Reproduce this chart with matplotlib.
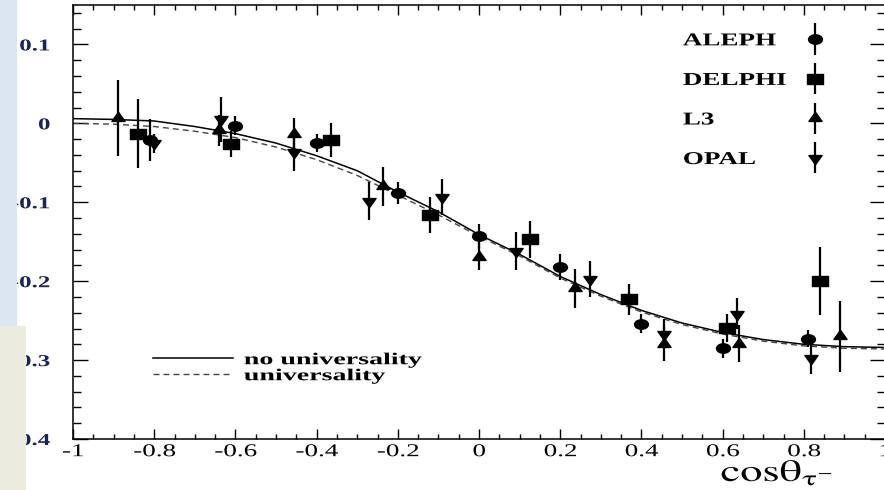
"""
tau 极化随 cos(theta) 的分布：四个实验的数据点 + 两条拟合曲线。
"""

import matplotlib
matplotlib.use("Agg")
import matplotlib.pyplot as plt
from matplotlib import patheffects
from matplotlib.path import Path
from matplotlib.patches import Rectangle
from matplotlib.transforms import Affine2D
from matplotlib.ticker import MultipleLocator
from matplotlib.container import ErrorbarContainer
from matplotlib.legend_handler import HandlerErrorbar
from matplotlib.offsetbox import HPacker, TextArea

# ============================================================
# 数据
# ============================================================
aleph_x = [-0.81, -0.60, -0.40, -0.20, 0.00, 0.20, 0.40, 0.60, 0.81]
aleph_y = [-0.021, -0.003, -0.025, -0.088, -0.143, -0.182, -0.254, -0.285, -0.273]
aleph_err = [0.027, 0.012, 0.011, 0.014, 0.015, 0.016, 0.012, 0.012, 0.011]

delphi_x = [-0.84, -0.61, -0.365, -0.12, 0.125, 0.37, 0.61, 0.84]
delphi_y = [-0.013, -0.026, -0.021, -0.116, -0.147, -0.223, -0.259, -0.200]
delphi_err = [0.044, 0.016, 0.021, 0.023, 0.023, 0.020, 0.018, 0.043]

l3_x = [-0.89, -0.64, -0.455, -0.236, 0.0, 0.236, 0.455, 0.64, 0.89]
l3_y = [0.007, -0.009, -0.013, -0.080, -0.169, -0.209, -0.279, -0.279, -0.270]
l3_err = [0.048, 0.020, 0.020, 0.025, 0.017, 0.025, 0.022, 0.023, 0.045]

opal_x = [-0.80, -0.635, -0.455, -0.27, -0.09, 0.09, 0.274, 0.455, 0.635, 0.817]
opal_y = [-0.025, 0.005, -0.036, -0.098, -0.093, -0.162, -0.197, -0.267, -0.241, -0.297]
opal_err = [0.012, 0.029, 0.024, 0.024, 0.023, 0.024, 0.023, 0.019, 0.020, 0.020]

exp_names = ["ALEPH", "DELPHI", "L3", "OPAL"]

curve_x = [-1.0, -0.9, -0.8, -0.7, -0.6, -0.5, -0.4, -0.3, -0.2, -0.1, 0.0,
           0.1, 0.2, 0.3, 0.4, 0.5, 0.6, 0.7, 0.8, 0.9, 1.0]
no_univ_y = [0.006, 0.005, 0.003, -0.004, -0.013, -0.025, -0.041, -0.060, -0.087, -0.112, -0.141,
             -0.166, -0.194, -0.217, -0.237, -0.253, -0.265, -0.274, -0.280, -0.283, -0.284]
univ_y = [0.000, -0.001, -0.004, -0.010, -0.018, -0.030, -0.046, -0.066, -0.091, -0.116, -0.143,
          -0.168, -0.196, -0.219, -0.239, -0.255, -0.267, -0.276, -0.282, -0.285, -0.286]
curve_names = ["no universality", "universality"]

xticks = [-1, -0.8, -0.6, -0.4, -0.2, 0, 0.2, 0.4, 0.6, 0.8, 1]
xtick_labels = ["-1", "-0.8", "-0.6", "-0.4", "-0.2", "0", "0.2", "0.4", "0.6", "0.8", "1"]
yticks = [-0.4, -0.3, -0.2, -0.1, 0, 0.1]
ytick_labels = ["-0.4", "-0.3", "-0.2", "-0.1", "0", "0.1"]

plt.rcParams["font.family"] = ["Liberation Serif", "DejaVu Serif"]
plt.rcParams["mathtext.fontset"] = "stix"
plt.rcParams["axes.unicode_minus"] = False


class StretchX(patheffects.AbstractPathEffect):
    """扫描图里的字被横向拉宽了，这里照样拉宽"""

    def __init__(self, sx=1.5, pivot="center"):
        super().__init__()
        self.sx = sx
        self.pivot = pivot

    def draw_path(self, renderer, gc, tpath, affine, rgbFace=None):
        v = tpath.vertices
        if len(v) == 0:
            return
        x0, x1 = v[:, 0].min(), v[:, 0].max()
        cx = {"left": x0, "center": 0.5 * (x0 + x1), "right": x1}[self.pivot]
        st = Affine2D().translate(-cx, 0).scale(self.sx, 1).translate(cx, 0)
        renderer.draw_path(gc, tpath, st + affine, rgbFace)


# 标记：原图被横向拉伸，圆变椭圆
ell = Path.unit_circle().transformed(Affine2D().scale(1, 0.68))
box = Path([(-1, -0.65), (1, -0.65), (1, 0.65), (-1, 0.65), (-1, -0.65)], closed=True)
tri_up = Path([(-1, -0.45), (1, -0.45), (0, 0.95), (-1, -0.45)], closed=True)
tri_dn = Path([(-1, 0.45), (1, 0.45), (0, -0.95), (-1, 0.45)], closed=True)

fig = plt.figure(figsize=(8.84, 4.90), dpi=100)
ax = fig.add_axes([73 / 884, 51 / 490, 812 / 884, 434 / 490])

# 拟合曲线
ax.plot(curve_x, no_univ_y, color="black", lw=1.1, zorder=2, label=curve_names[0])
ax.plot(curve_x, univ_y, color="#444444", lw=1.0, ls=(0, (4.3, 2.9)), zorder=2,
        label=curve_names[1])

# 数据点
eb_kw = dict(color="black", ls="none", elinewidth=1.6, capsize=0, zorder=3)
h_a = ax.errorbar(aleph_x, aleph_y, yerr=aleph_err, marker=ell, ms=10, **eb_kw)
h_d = ax.errorbar(delphi_x, delphi_y, yerr=delphi_err, marker=box, ms=11, **eb_kw)
h_l = ax.errorbar(l3_x, l3_y, yerr=l3_err, marker=tri_up, ms=9.5, **eb_kw)
h_o = ax.errorbar(opal_x, opal_y, yerr=opal_err, marker=tri_dn, ms=9.5, **eb_kw)

ax.set_xlim(-1, 1)
ax.set_ylim(-0.4, 0.15)
ax.set_xticks(xticks, labels=xtick_labels)
ax.set_yticks(yticks, labels=ytick_labels)
ax.xaxis.set_minor_locator(MultipleLocator(0.05))
ax.yaxis.set_minor_locator(MultipleLocator(0.02))
ax.tick_params(which="both", direction="in", top=True, right=True, width=1.0)
ax.tick_params(axis="x", which="major", length=7, pad=3, labelsize=13)
ax.tick_params(axis="x", which="minor", length=3.5)
ax.tick_params(axis="y", which="major", length=11, pad=16.5, labelsize=12,
               labelcolor="#1b2452")
ax.tick_params(axis="y", which="minor", length=6)
for sp in ax.spines.values():
    sp.set_linewidth(1.1)

for lab in ax.get_xticklabels():
    lab.set_path_effects([StretchX(1.5, "center")])
for lab in ax.get_yticklabels():
    lab.set_fontweight("bold")
    lab.set_path_effects([StretchX(1.5, "right")])

ax.set_xlabel(r"$\mathrm{cos\theta_{\tau^{-}}}$", fontsize=22, loc="right")
ax.xaxis.set_label_coords(0.936, -0.046)
ax.xaxis.label.set_path_effects([StretchX(1.45, "right")])

# 实验图例（右上）
leg1 = ax.legend([h_a, h_d, h_l, h_o], exp_names, loc="upper left",
                 bbox_to_anchor=(0.751, 0.937), frameon=False, markerfirst=False,
                 numpoints=1, handlelength=1.0, handletextpad=3.0, labelspacing=1.25,
                 borderpad=0, borderaxespad=0,
                 prop={"size": 13, "weight": "bold"},
                 handler_map={ErrorbarContainer: HandlerErrorbar(yerr_size=0.86)})
for t in leg1.get_texts():
    t.set_path_effects([StretchX(1.5, "left")])

# 文字左对齐：按各行文字宽度补齐文字与标记之间的间距
renderer = fig.canvas.get_renderer()
rows = leg1.findobj(lambda a: isinstance(a, HPacker) and len(a.get_children()) == 2
                    and isinstance(a.get_children()[0], TextArea))
widths = [r.get_children()[0].get_bbox(renderer).width for r in rows]
for r, w in zip(rows, widths):
    r.sep += (max(widths) - w) * 72 / fig.dpi
ax.add_artist(leg1)

# 曲线图例（左下）
lines = ax.get_lines()[:2]
leg2 = ax.legend(lines, curve_names, loc="upper left", bbox_to_anchor=(0.0985, 0.200),
                 frameon=False, handlelength=4.8, handletextpad=0.65, labelspacing=0.0,
                 borderpad=0, borderaxespad=0, prop={"size": 12, "weight": "bold"})
for t in leg2.get_texts():
    t.set_path_effects([StretchX(1.68, "left")])

# 左侧截图残留的色块
fig.add_artist(Rectangle((0, 1 - 326 / 490), 17 / 884, 326 / 490, transform=fig.transFigure,
                         facecolor="#dce6f2", edgecolor="none", zorder=10))
fig.add_artist(Rectangle((0, 0), 26 / 884, 1 - 326 / 490, transform=fig.transFigure,
                         facecolor="#ecebe0", edgecolor="none", zorder=10))

fig.savefig("out.png", dpi=100)
plt.close(fig)
